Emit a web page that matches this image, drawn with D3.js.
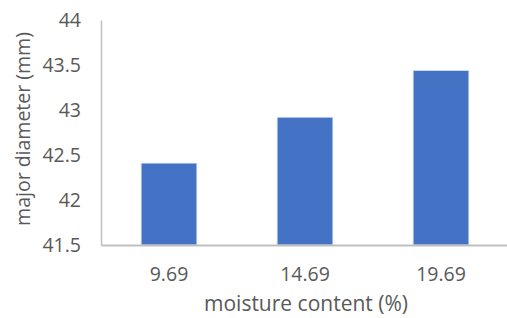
<!DOCTYPE html>
<html><head><meta charset="utf-8">
<script src="https://cdn.jsdelivr.net/npm/d3@7"></script>
<style>body{margin:0;background:#fff}svg{display:block}text{font-family:"Open Sans",sans-serif;fill:#595959}</style>
</head><body>
<script>
const categories = ["9.69", "14.69", "19.69"];
const values = [42.41, 42.92, 43.44];
const yTicks = [41.5, 42, 42.5, 43, 43.5, 44];
const xTitle = "moisture content (%)";
const yTitle = "major diameter (mm)";

const W = 507, H = 318;
const m = {left: 101, right: -2, top: 20, bottom: 73};
const svg = d3.select("body").append("svg").attr("width", W).attr("height", H);
const x = d3.scaleBand().domain(categories).range([m.left, W - m.right]).paddingInner(0.59).paddingOuter(0.295);
const y = d3.scaleLinear().domain([41.5, 44]).range([H - m.bottom, m.top]);

svg.append("g").selectAll("rect").data(values).join("rect")
  .attr("x", (d, i) => x(categories[i]))
  .attr("width", x.bandwidth())
  .attr("y", d => y(d))
  .attr("height", d => y(41.5) - y(d))
  .attr("fill", "#4472C4")
  .attr("stroke", "#dce6f5").attr("stroke-width", 0.8);

const ya = svg.append("g").attr("transform", `translate(${m.left},0)`)
  .call(d3.axisLeft(y).tickValues(yTicks).tickSize(0).tickPadding(20).tickFormat(d3.format("")));
ya.select(".domain").attr("stroke", "#bfbfbf").attr("stroke-width", 1.5);
ya.selectAll("text").style("font-size", "19.5px").style("font-family", "Open Sans").attr("fill", "#595959");

const xa = svg.append("g").attr("transform", `translate(0,${y(41.5)})`)
  .call(d3.axisBottom(x).tickSize(0).tickPadding(22));
xa.select(".domain").attr("stroke", "#bfbfbf").attr("stroke-width", 2);
xa.selectAll("text").style("font-size", "19.5px").style("font-family", "Open Sans").attr("fill", "#595959");

svg.append("text").attr("x", 306).attr("y", 311).attr("text-anchor", "middle")
  .style("font-size", "21px").text(xTitle);
svg.append("text").attr("transform", "translate(30,129) rotate(-90)").attr("text-anchor", "middle")
  .style("font-size", "19.5px").text(yTitle);
</script>
</body></html>
